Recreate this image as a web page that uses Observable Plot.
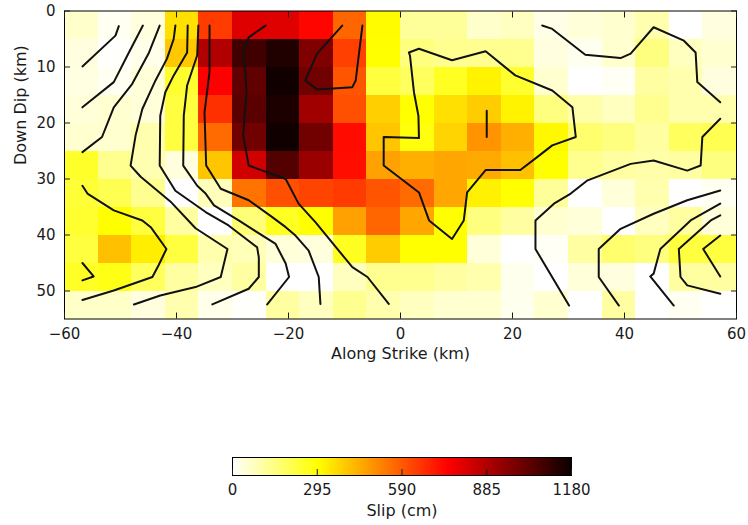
<!DOCTYPE html>
<html>
<head>
<meta charset="utf-8">
<script src="https://cdn.jsdelivr.net/npm/d3@7"></script>
<script src="https://cdn.jsdelivr.net/npm/@observablehq/plot@0.6"></script>
<style>
  body { margin: 0; background: #fff; }
  #wrap { position: relative; width: 748px; height: 525px; font-family: "DejaVu Sans", sans-serif; }
  #main { position: absolute; left: 0; top: 0; }
  #cbar { position: absolute; left: 0; top: 447px; }
</style>
</head>
<body>
<div id="wrap"><div id="main"></div><div id="cbar"></div></div>
<script>
// ---- grid (km) ----
const alongStrike = [-60,-54,-48,-42,-36,-30,-24,-18,-12,-6,0,6,12,18,24,30,36,42,48,54];
const downDip = [0,5,10,15,20,25,30,35,40,45,50];
const cellWidth = 6, cellHeight = 5;

// ---- slip (cm), one row per down-dip band ----
const slip0  = [60,15,40,355,646,808,805,740,570,305,120,120,60,75,27,45,55,95,0,37];
const slip1  = [37,5,25,397,889,1086,1142,974,637,300,150,130,130,130,37,18,55,150,75,55];
const slip2  = [35,15,45,245,750,1030,1170,1000,600,225,190,260,320,245,55,0,10,110,95,37];
const slip3  = [45,55,45,225,665,1040,1150,915,610,385,300,355,390,320,150,100,75,130,95,95];
const slip4  = [55,55,95,225,560,1000,1170,1000,730,400,285,375,490,440,310,170,150,110,190,205];
const slip5  = [250,130,90,40,400,830,1055,925,725,465,440,457,450,410,300,130,110,100,110,150];
const slip6  = [235,205,130,0,80,545,610,630,646,600,560,457,325,300,120,0,45,95,0,15];
const slip7  = [245,300,225,110,0,160,260,300,465,570,457,300,150,110,55,45,0,75,110,45];
const slip8  = [225,410,330,225,95,85,45,40,260,390,300,300,45,0,10,110,170,150,225,225];
const slip9  = [255,275,190,110,75,110,0,0,75,130,130,110,95,20,0,45,37,0,110,110];
const slip10 = [65,65,37,95,25,5,110,75,130,95,75,55,55,20,55,0,110,0,15,0];
const slipRows = [slip0,slip1,slip2,slip3,slip4,slip5,slip6,slip7,slip8,slip9,slip10];

// ---- rupture-front contour polylines [along strike km, down dip km] ----
const c1 = [[-50.3,2.7],[-50.9,4.4],[-56.8,9.9]];
const c2 = [[-46.0,2.6],[-48.5,7.4],[-51.2,12.7],[-56.8,17.2]];
const c3 = [[-43.0,2.6],[-44.9,7.4],[-47.9,13.0],[-51.2,17.2],[-53.3,22.5],[-56.8,25.2]];
const c4 = [[-40.2,2.6],[-40.5,5.0],[-41.7,8.5],[-43.75,12.4],[-46.1,17.5],[-47.3,22.2],[-48.2,27.6],[-46.4,29.6],[-41.1,34.0],[-36.6,38.8],[-30.9,42.5],[-32.1,47.5],[-36.6,49.3],[-42.9,50.8],[-47.6,52.4]];
const c5 = [[-38.0,2.6],[-38.1,7.4],[-40.5,11.5],[-42.0,14.5],[-42.9,18.7],[-43.0,27.6],[-40.2,32.1],[-34.8,35.9],[-30.7,38.3],[-25.6,42.2],[-25.3,44.0],[-25.3,47.5],[-27.1,49.6],[-33.6,52.4]];
const c6 = [[-36.1,2.6],[-36.3,7.9],[-38.1,13.3],[-38.7,18.7],[-38.8,27.6],[-36.3,31.2],[-34.8,32.6],[-33.3,34.7],[-28.9,37.4],[-22.3,41.6],[-20.5,45.1],[-19.9,47.5],[-23.8,52.4]];
const c7 = [[-34.1,2.6],[-34.1,10.9],[-35.0,18.1],[-34.7,27.6],[-32.1,31.75],[-27.1,33.8],[-22.9,36.8],[-20.5,38.6],[-18.75,40.1],[-16.4,42.8],[-14.6,47.5],[-14.3,52.3]];
const c8 = [[-24.1,2.6],[-27.1,4.7],[-28.1,7.4],[-27.7,10.9],[-27.5,14.5],[-28.1,22.2],[-27.1,27.6],[-20.5,30.0],[-18.2,34.4],[-15.2,37.7],[-8.6,45.75],[-5.9,47.5],[-2.1,52.3]];
const c9 = [[-10.4,2.6],[-14.9,7.6],[-17.0,12.4],[-14.9,14.0],[-8.6,13.6],[-8.0,12.4],[-6.8,2.6]];
const c10 = [[-56.8,31.2],[-55.9,32.6],[-51.2,35.6],[-46.1,37.4],[-44.6,38.6],[-41.8,42.5],[-43.2,45.4],[-44.3,47.5],[-51.2,49.9],[-56.8,51.6]];
const c11 = [[-56.8,45.0],[-54.8,47.4],[-56.8,48.1]];
const c12 = [[1.5,7.4],[3.3,6.75],[9.2,8.8],[15.2,7.2],[20.5,11.5],[27.1,14.2],[30.7,17.2],[31.3,22.5],[27.1,24.0],[24.4,26.1],[21.4,28.4],[15.2,28.4],[11.9,32.4],[11.3,37.4],[9.2,40.7],[5.1,37.4],[3.3,32.4],[-3.0,27.6],[-3.0,22.5],[3.3,22.7],[3.2,18.7],[2.4,14.5],[1.7,8.0],[1.5,7.4]];
const c13 = [[15.4,17.8],[15.4,22.5]];
const c14 = [[25.3,2.6],[27.1,3.2],[33.0,7.8],[39.3,8.4],[41.1,7.6],[45.2,2.9],[50.6,5.3],[52.7,7.4],[53.0,12.7],[57.1,16.3]];
const c15 = [[57.1,19.25],[53.9,22.5],[53.6,27.6],[51.2,28.5],[45.2,26.7],[41.1,27.3],[33.3,30.3],[30.4,32.6],[27.4,34.4],[24.1,37.4],[24.1,42.5],[30.1,52.6]];
const c16 = [[57.1,32.05],[51.2,33.8],[45.2,36.2],[39.3,38.9],[35.4,42.5],[35.4,47.5],[39.0,52.6]];
const c17 = [[57.1,34.4],[51.8,37.4],[46.4,42.5],[45.2,46.9],[44.6,47.4],[48.8,52.6]];
const c18 = [[57.1,36.5],[55.4,37.4],[49.7,42.5],[50.0,47.5],[51.2,49.0],[57.1,50.5]];
const c19 = [[57.1,40.1],[54.05,42.5],[57.1,47.4]];
const contourLines = [c1,c2,c3,c4,c5,c6,c7,c8,c9,c10,c11,c12,c13,c14,c15,c16,c17,c18,c19];

// ---- axes / colorbar ticks ----
const xTicks = [-60,-40,-20,0,20,40,60];
const yTicks = [0,10,20,30,40,50];
const slipTicks = [0,295,590,885,1180];
const slipMax = 1180;

// ---- tables built from the arrays ----
const cells = [];
slipRows.forEach((row, j) => row.forEach((v, i) => cells.push({
  x1: alongStrike[i], x2: alongStrike[i] + cellWidth,
  y1: downDip[j], y2: downDip[j] + cellHeight, slip: v
})));
const lineData = contourLines.flatMap((pts, id) => pts.map(([x, y]) => ({x, y, id})));

// matplotlib "hot_r" on 0..1180
const colorOpts = {
  type: "linear",
  domain: [0, 0.253968 * slipMax, 0.634921 * slipMax, slipMax],
  range: ["#ffffff", "#ffff00", "#ff0000", "#0b0000"],
  interpolate: "rgb",
  clamp: true
};
const font = {fontFamily: "DejaVu Sans, sans-serif", fontSize: "15px", color: "#1a1a1a", background: "#fff", overflow: "visible"};

const main = Plot.plot({
  width: 748, height: 370,
  marginLeft: 64, marginRight: 12, marginTop: 10.5, marginBottom: 51.5,
  style: font,
  x: {domain: [-60, 60]},
  y: {domain: [0, 55], reverse: true},
  color: colorOpts,
  marks: [
    Plot.rect(cells, {x1: "x1", x2: "x2", y1: "y1", y2: "y2", fill: "slip", shapeRendering: "crispEdges"}),
    Plot.line(lineData, {x: "x", y: "y", z: "id", stroke: "#111", strokeWidth: 2, clip: true}),
    Plot.frame({stroke: "#000", strokeWidth: 1}),
    Plot.axisX(xTicks, {anchor: "bottom", tickSize: -6, tickPadding: 15, label: null}),
    Plot.axisX(xTicks, {anchor: "top", tickSize: -6, tickFormat: () => "", label: null}),
    Plot.axisY(yTicks, {anchor: "left", tickSize: -6, tickPadding: 15, label: null}),
    Plot.axisY(yTicks, {anchor: "right", tickSize: -6, tickFormat: () => "", label: null}),
    Plot.text(["Along Strike (km)"], {frameAnchor: "bottom", dy: 40, text: d => d, fontSize: 16}),
    Plot.text(["Down Dip (km)"], {frameAnchor: "left", dx: -44, rotate: -90, text: d => d, fontSize: 16})
  ]
});
document.getElementById("main").appendChild(main);

// colour bar
const step = 2;
const stops = d3.range(0, slipMax, step);
const cbar = Plot.plot({
  width: 748, height: 78,
  marginLeft: 232, marginRight: 177, marginTop: 10, marginBottom: 50,
  style: font,
  x: {domain: [0, slipMax]},
  y: {domain: [0, 1], axis: null},
  color: colorOpts,
  marks: [
    Plot.rect(stops, {x1: d => d, x2: d => d + step, y1: 0, y2: 1, fill: d => d + step / 2, shapeRendering: "crispEdges"}),
    Plot.frame({stroke: "#000", strokeWidth: 1}),
    Plot.axisX(slipTicks, {anchor: "bottom", tickSize: -6, tickPadding: 15, tickFormat: d => String(d), label: null}),
    Plot.text(["Slip (cm)"], {frameAnchor: "bottom", dy: 40, text: d => d, fontSize: 16})
  ]
});
document.getElementById("cbar").appendChild(cbar);
</script>
</body>
</html>
